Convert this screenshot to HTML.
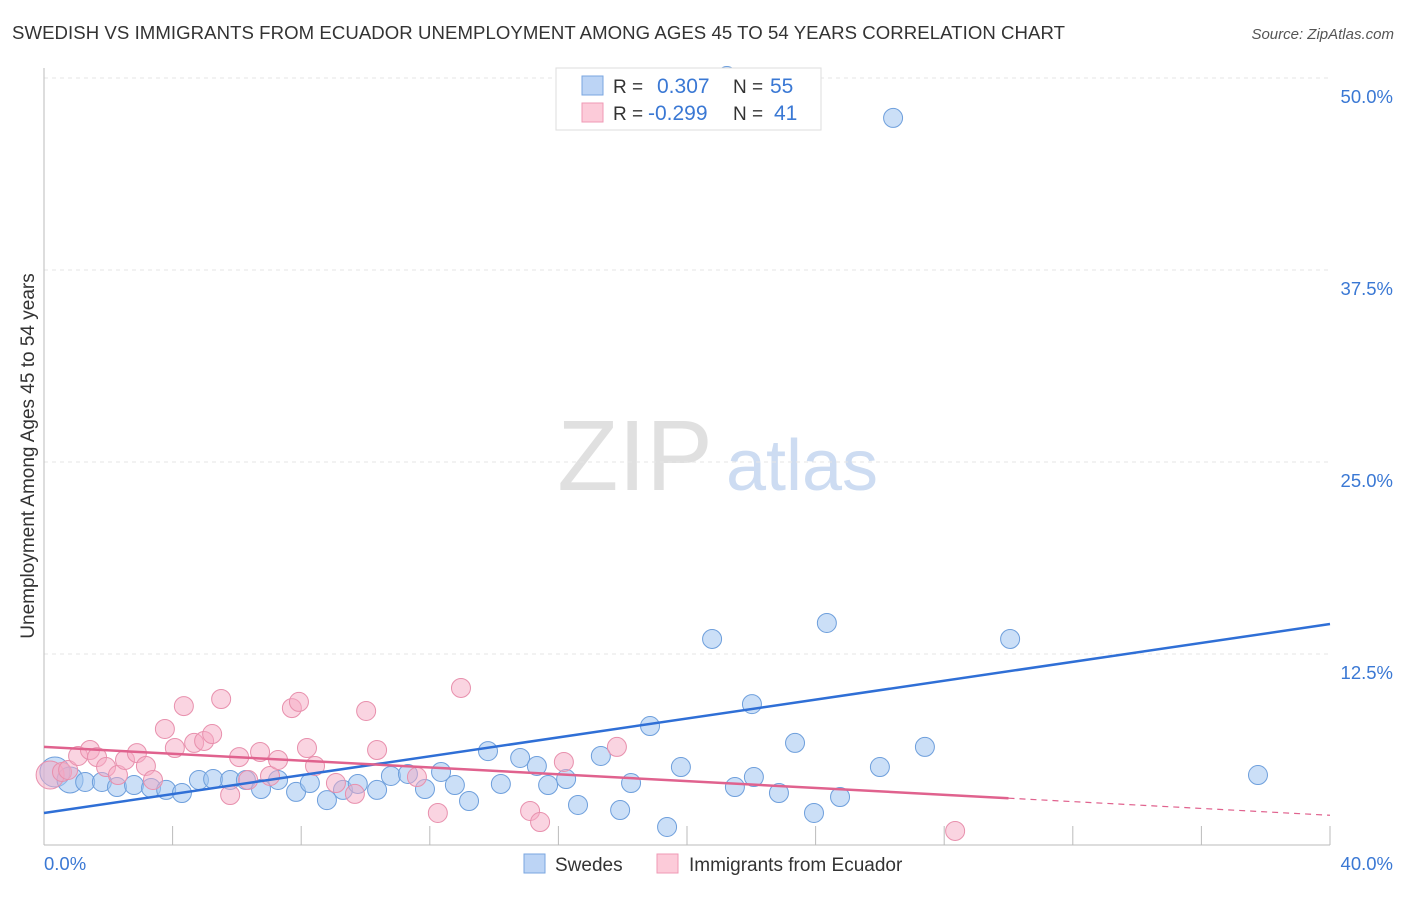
<!DOCTYPE html>
<html><head><meta charset="utf-8"><style>
body{margin:0;background:#fff;font-family:"Liberation Sans",sans-serif;}
svg text{font-family:"Liberation Sans",sans-serif;}
</style></head><body>
<svg id="chart" width="1406" height="892" xmlns="http://www.w3.org/2000/svg">
<text x="12" y="39" font-size="18.6" fill="#333" textLength="1053">SWEDISH VS IMMIGRANTS FROM ECUADOR UNEMPLOYMENT AMONG AGES 45 TO 54 YEARS CORRELATION CHART</text>
<text x="1394" y="39" font-size="15" fill="#555" font-style="italic" text-anchor="end">Source: ZipAtlas.com</text>
<text transform="translate(34,456) rotate(-90)" font-size="19" fill="#333" text-anchor="middle">Unemployment Among Ages 45 to 54 years</text>
<g>
<text x="635" y="490" font-size="100" font-family="Liberation Serif,serif" fill="#e0e0e0" text-anchor="middle">ZIP</text>
<text x="802" y="490" font-size="72" fill="#cddcf2" text-anchor="middle">atlas</text>
</g>
<g id="grid"></g><g id="axes"></g><g id="marks"></g><g id="trends"></g>
<g>
<rect x="556" y="68" width="265" height="62" fill="#fff" stroke="#ddd"/>
<rect x="582" y="76" width="21" height="19" fill="#bcd4f5" stroke="#7aa6e0"/>
<rect x="582" y="103" width="21" height="19" fill="#fccbd9" stroke="#ef9ab5"/>
<text x="613" y="93" font-size="19" fill="#333">R =</text>
<text x="657" y="93" font-size="21" fill="#3a78d4">0.307</text>
<text x="733" y="93" font-size="19" fill="#333">N =</text>
<text x="770" y="93" font-size="21" fill="#3a78d4">55</text>
<text x="613" y="120" font-size="19" fill="#333">R =</text>
<text x="648" y="120" font-size="21" fill="#3a78d4">-0.299</text>
<text x="733" y="120" font-size="19" fill="#333">N =</text>
<text x="774" y="120" font-size="21" fill="#3a78d4">41</text>
</g>
<g>
<rect x="524" y="854" width="21" height="19" fill="#bcd4f5" stroke="#7aa6e0"/>
<text x="555" y="871" font-size="19" fill="#333">Swedes</text>
<rect x="657" y="854" width="21" height="19" fill="#fccbd9" stroke="#ef9ab5"/>
<text x="689" y="871" font-size="19" fill="#333">Immigrants from Ecuador</text>
</g>
</svg>
<script>
const blueX=[0.34,0.81,1.28,1.80,2.27,2.80,3.33,3.80,4.29,4.82,5.26,5.79,6.28,6.75,7.28,7.84,8.27,8.80,9.30,9.76,10.36,10.79,11.32,11.85,12.35,12.78,13.22,13.81,14.21,14.81,15.33,15.68,16.24,16.61,17.32,17.92,18.26,18.85,19.38,19.81,20.78,21.49,22.02,22.08,22.86,23.36,23.95,24.35,24.76,26.00,26.41,27.40,30.05,37.76,21.24];
const blueY=[4.82,4.30,4.17,4.17,3.84,3.97,3.78,3.65,3.45,4.30,4.36,4.30,4.30,3.71,4.30,3.52,4.10,2.99,3.65,4.04,3.65,4.56,4.69,3.71,4.82,3.97,2.93,6.18,4.04,5.73,5.21,3.97,4.36,2.67,5.86,2.34,4.10,7.81,1.24,5.14,13.48,3.84,9.24,4.49,3.45,6.71,2.15,14.52,3.19,5.14,47.40,6.45,13.48,4.62,50.13];
const pinkX=[0.19,0.56,0.75,1.06,1.43,1.65,1.93,2.30,2.52,2.89,3.17,3.39,3.76,4.07,4.35,4.67,4.98,5.23,5.51,5.79,6.07,6.35,6.72,7.03,7.28,7.71,7.93,8.18,8.43,9.08,9.67,10.02,10.36,11.60,12.25,12.97,15.12,15.43,16.17,17.82,28.34];
const pinkY=[4.62,4.82,4.95,5.86,6.25,5.79,5.14,4.62,5.60,6.05,5.21,4.30,7.62,6.38,9.11,6.71,6.84,7.29,9.57,3.32,5.79,4.30,6.12,4.56,5.60,8.98,9.38,6.38,5.21,4.10,3.39,8.79,6.25,4.49,2.15,10.29,2.28,1.56,5.47,6.45,0.98];
const yTicks=[12.5,25,37.5,50];
const yTickLabels=["12.5%","25.0%","37.5%","50.0%"];
const xTicks=[4,8,12,16,20,24,28,32,36,40];
const blueTrend=[2.15,14.45];
const pinkTrend=[6.45,2.0];

const NS="http://www.w3.org/2000/svg";
const sx=v=>44+v*1286/40;
const sy=v=>846-v*192/12.5;
function mk(tag,attrs,parent){const e=document.createElementNS(NS,tag);for(const k in attrs)e.setAttribute(k,attrs[k]);document.getElementById(parent).appendChild(e);return e;}

yTicks.forEach((t,i)=>{
  const l=mk('line',{x1:44,x2:1330,y1:sy(t),y2:sy(t),stroke:'#e6e6e6','stroke-dasharray':'4,4'},'grid');
  
  
  const tx=mk('text',{x:1393,y:sy(t)+25,'font-size':18.5,fill:'#3a78d4','text-anchor':'end'},'grid');
  tx.textContent=yTickLabels[i];
  
  
});
let a=mk('line',{x1:44,x2:44,y1:68,y2:845,stroke:'#bbb'},'axes');


a=mk('line',{x1:44,x2:1330,y1:845,y2:845,stroke:'#bbb'},'axes');


xTicks.forEach(t=>{
  const l=mk('line',{x1:sx(t),x2:sx(t),y1:826,y2:845,stroke:'#bbb'},'axes');
  
  
});
let t0=mk('text',{x:44,y:870,'font-size':18.5,fill:'#3a78d4'},'axes');t0.textContent='0.0%';


let t1=mk('text',{x:1393,y:870,'font-size':18.5,fill:'#3a78d4','text-anchor':'end'},'axes');t1.textContent='40.0%';



blueX.forEach((x,i)=>{
  const c=mk('circle',{cx:sx(x),cy:sy(blueY[i]),r:i<2?(i==0?15:13):9.5,fill:'rgba(160,196,240,0.55)',stroke:'#6e9fdc','stroke-width':1},'marks');
  
  
});
pinkX.forEach((x,i)=>{
  const c=mk('circle',{cx:sx(x),cy:sy(pinkY[i]),r:i==0?14:9.5,fill:'rgba(245,170,195,0.5)',stroke:'#e890ad','stroke-width':1},'marks');
  
  
});
let bl=mk('line',{x1:sx(0),y1:sy(blueTrend[0]),x2:sx(40),y2:sy(blueTrend[1]),stroke:'#2f6fd6','stroke-width':2.5},'trends');


const pAt=v=>pinkTrend[0]+(pinkTrend[1]-pinkTrend[0])*v/40;
let pl=mk('line',{x1:sx(0),y1:sy(pAt(0)),x2:sx(30),y2:sy(pAt(30)),stroke:'#e0628e','stroke-width':2.5},'trends');


let pd=mk('line',{x1:sx(30),y1:sy(pAt(30)),x2:sx(40),y2:sy(pAt(40)),stroke:'#e0628e','stroke-width':1.2,'stroke-dasharray':'6,5'},'trends');


</script>
</body></html>
